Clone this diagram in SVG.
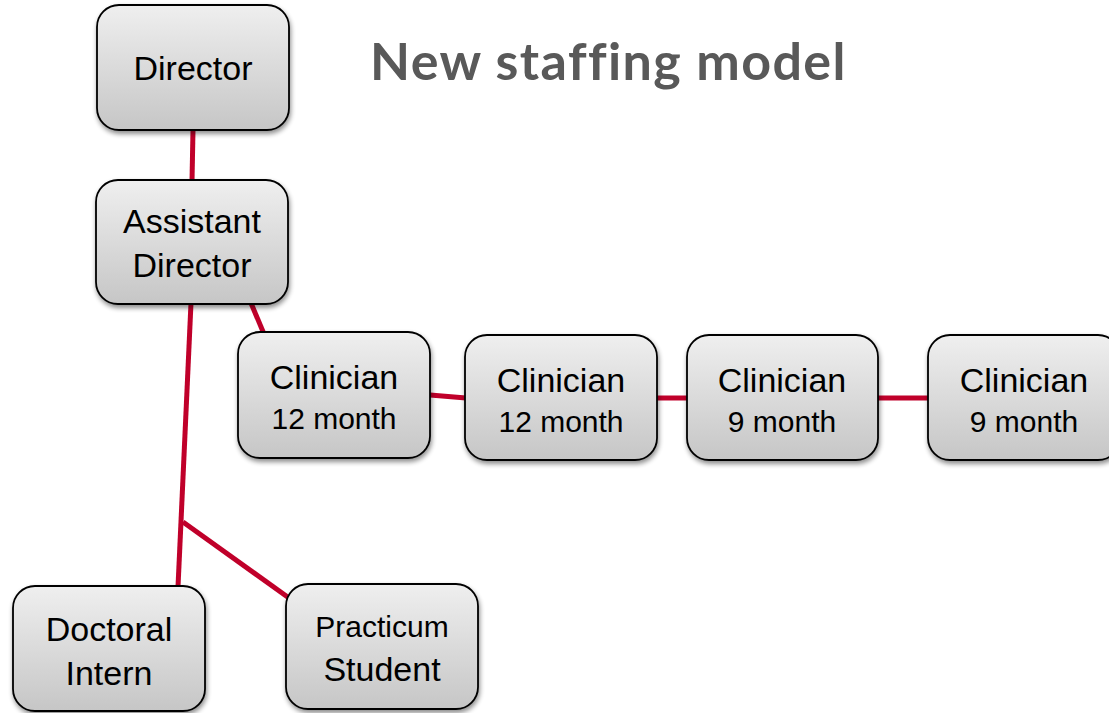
<svg xmlns="http://www.w3.org/2000/svg" width="1109" height="713" viewBox="0 0 1109 713">
<style>
.box{fill:url(#g);stroke:#000;stroke-width:1.8;filter:url(#sh)}
.t{font-family:"Liberation Sans",Arial,sans-serif;font-size:34px;fill:#000;text-anchor:middle}
.s{font-size:30px}
.c{stroke:#C0002A;stroke-width:5;fill:none}
.title{font-family:"Lato","Open Sans",sans-serif;font-weight:bold;font-size:52px;fill:#595959;letter-spacing:1.4px;font-variant-ligatures:none}
</style>
<defs>
<linearGradient id="g" x1="0" y1="0" x2="0" y2="1">
<stop offset="0" stop-color="#efefef"/>
<stop offset="1" stop-color="#c6c6c6"/>
</linearGradient>
<filter id="sh" x="-10%" y="-10%" width="125%" height="130%">
<feGaussianBlur in="SourceAlpha" stdDeviation="2.5"/>
<feOffset dx="1" dy="3" result="b"/>
<feComponentTransfer><feFuncA type="linear" slope="0.45"/></feComponentTransfer>
<feMerge><feMergeNode/><feMergeNode in="SourceGraphic"/></feMerge>
</filter>
</defs>
<rect width="1109" height="713" fill="#fff"/>
<text class="title" x="370" y="80">New staffing model</text>
<g id="connectors">
<line class="c" x1="193" y1="130" x2="192" y2="181"/>
<line class="c" x1="191" y1="303" x2="178" y2="587"/>
<line class="c" x1="183" y1="522" x2="289" y2="598"/>
<line class="c" x1="251" y1="303" x2="264" y2="334"/>
<line class="c" x1="430" y1="395" x2="466" y2="398"/>
<line class="c" x1="657" y1="398" x2="688" y2="398"/>
<line class="c" x1="878" y1="398" x2="929" y2="398"/>
</g>
<g id="director"><rect class="box" x="97" y="5" width="192" height="125" rx="22"/><text class="t" x="193" y="80">Director</text></g>
<g id="assistant-director"><rect class="box" x="96" y="180" width="192" height="124" rx="22"/><text class="t" x="192" y="233">Assistant</text><text class="t" x="192" y="277">Director</text></g>
<g id="clinician1"><rect class="box" x="238" y="332" width="192" height="126" rx="22"/><text class="t" x="334" y="389">Clinician</text><text class="t s" x="334" y="429">12 month</text></g>
<g id="clinician2"><rect class="box" x="465" y="335" width="192" height="125" rx="22"/><text class="t" x="561" y="392">Clinician</text><text class="t s" x="561" y="432">12 month</text></g>
<g id="clinician3"><rect class="box" x="687" y="335" width="191" height="125" rx="22"/><text class="t" x="782" y="392">Clinician</text><text class="t s" x="782" y="432">9 month</text></g>
<g id="clinician4"><rect class="box" x="928" y="335" width="192" height="125" rx="22"/><text class="t" x="1024" y="392">Clinician</text><text class="t s" x="1024" y="432">9 month</text></g>
<g id="doctoral-intern"><rect class="box" x="13" y="586" width="192" height="125" rx="22"/><text class="t" x="109" y="641">Doctoral</text><text class="t" x="109" y="685">Intern</text></g>
<g id="practicum-student"><rect class="box" x="286" y="584" width="192" height="125" rx="22"/><text class="t s" x="382" y="637">Practicum</text><text class="t" x="382" y="681">Student</text></g>
</svg>
